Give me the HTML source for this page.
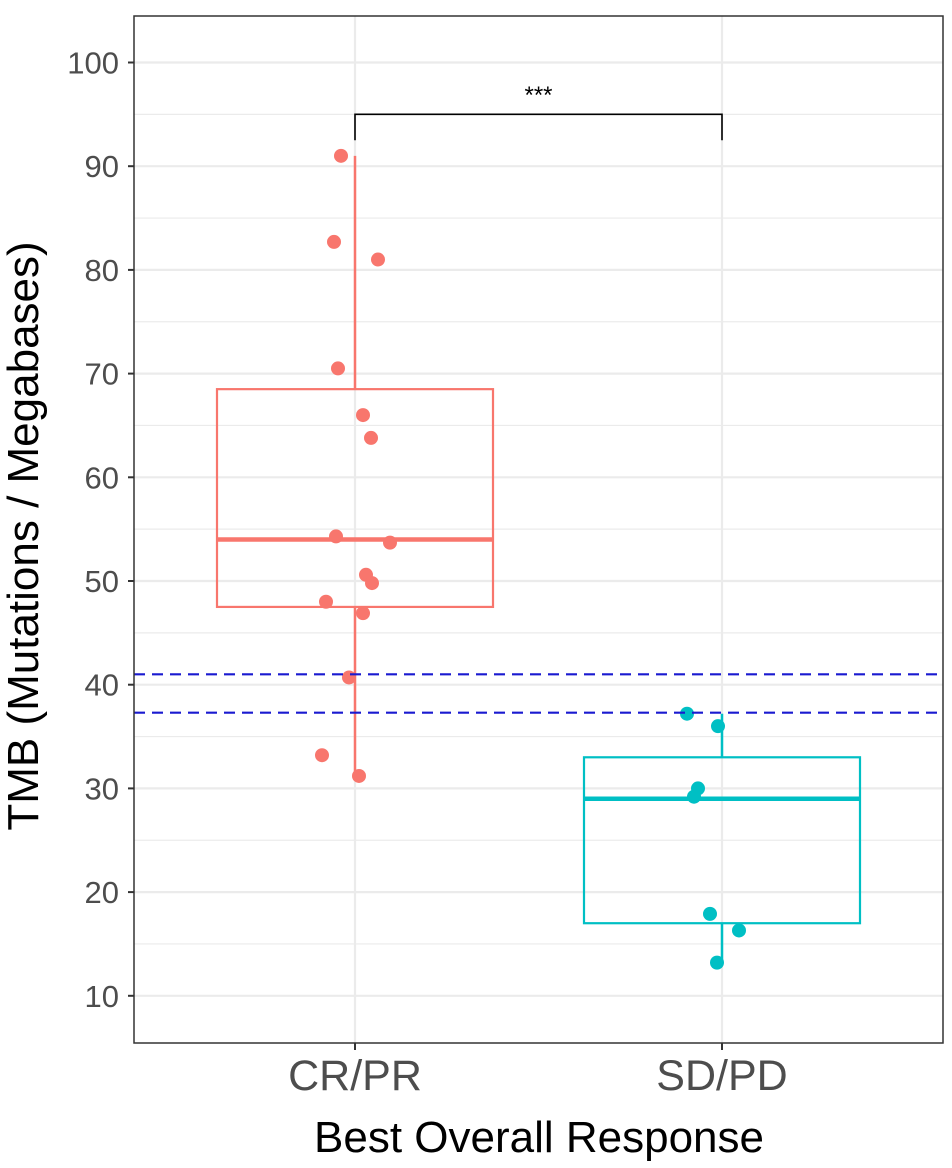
<!DOCTYPE html>
<html><head><meta charset="utf-8"><style>body{margin:0;background:#fff}svg{display:block;font-family:"Liberation Sans",sans-serif}</style></head>
<body>
<svg id="chart" width="952" height="1168"></svg>
<script>
const categories=["CR/PR","SD/PD"];
const crpr=[91,82.7,81,70.5,66,63.8,54.3,53.7,50.6,49.8,48,46.9,40.7,33.2,31.2];
const crprJitter=[-14,-21,23,-17,8,16,-19,35,11,17,-29,8,-6,-33,4];
const sdpd=[37.2,36,30,29.2,17.9,16.3,13.2];
const sdpdJitter=[-35,-4,-24,-28,-12,17,-5];
const boxStats=[{lo:31.2,q1:47.5,med:54,q3:68.5,hi:91},{lo:13.2,q1:17,med:29,q3:33,hi:37.2}];
const yTicks=[10,20,30,40,50,60,70,80,90,100];
const thresholds=[41,37.3];
const colors=["#F8766D","#00BFC4"];
const NS="http://www.w3.org/2000/svg";
const svg=document.getElementById("chart");
const L=134,R=943,T=16,B=1043;
const y=v=>62.5+(100-v)*10.37;
const x=i=>[355,722][i];
function el(t,a,p){const e=document.createElementNS(NS,t);for(const k in a)e.setAttribute(k,a[k]);(p||svg).appendChild(e);return e;}
for(let v=5;v<=105;v+=5){if(y(v)<T||y(v)>B)continue;const g=el("line",{x1:L,x2:R,y1:y(v),y2:y(v),stroke:"#ebebeb","stroke-width":v%10?1.2:2.2});

}
categories.forEach((c,i)=>{const g=el("line",{x1:x(i),x2:x(i),y1:T,y2:B,stroke:"#ebebeb","stroke-width":2.2});

});
boxStats.forEach((s,i)=>{const cx=x(i),w=138;
const g=el("g",{});


el("line",{x1:cx,x2:cx,y1:y(s.hi),y2:y(s.q3),stroke:colors[i],"stroke-width":2.5},g);
el("line",{x1:cx,x2:cx,y1:y(s.q1),y2:y(s.lo),stroke:colors[i],"stroke-width":2.5},g);
el("rect",{x:cx-w,y:y(s.q3),width:2*w,height:y(s.q1)-y(s.q3),fill:"none",stroke:colors[i],"stroke-width":2.2},g);
el("line",{x1:cx-w,x2:cx+w,y1:y(s.med),y2:y(s.med),stroke:colors[i],"stroke-width":4.5},g);});
[[crpr,crprJitter],[sdpd,sdpdJitter]].forEach(([vals,jit],i)=>vals.forEach((v,k)=>{const c=el("circle",{cx:x(i)+jit[k],cy:y(v),r:7,fill:colors[i]});

}));
thresholds.forEach(t=>{const l=el("line",{x1:L,x2:R,y1:y(t),y2:y(t),stroke:"#1a1ad0","stroke-width":2.2,"stroke-dasharray":"11,7"});

});
const br=el("path",{d:`M${x(0)},${y(92.5)}V${y(95)}H${x(1)}V${y(92.5)}`,fill:"none",stroke:"#000","stroke-width":1.6});


const st=el("text",{x:(x(0)+x(1))/2,y:103,"text-anchor":"middle","font-size":24});st.textContent="***";


const fr=el("rect",{x:L,y:T,width:R-L,height:B-T,fill:"none",stroke:"#333","stroke-width":1.5});


yTicks.forEach(v=>{el("line",{x1:L-6,x2:L,y1:y(v),y2:y(v),stroke:"#333","stroke-width":2});
const t=el("text",{x:L-15,y:y(v)+11,"text-anchor":"end","font-size":31,fill:"#4d4d4d"});t.textContent=v;

});
categories.forEach((c,i)=>{el("line",{x1:x(i),x2:x(i),y1:B,y2:B+7,stroke:"#333","stroke-width":2});
const t=el("text",{x:x(i),y:1090,"text-anchor":"middle","font-size":43,fill:"#4d4d4d"});t.textContent=c;

});
const xt=el("text",{x:539,y:1152,"text-anchor":"middle","font-size":44,fill:"#000"});xt.textContent="Best Overall Response";


const yt=el("text",{x:0,y:0,"text-anchor":"middle","font-size":44,fill:"#000",transform:`translate(38,536) rotate(-90)`});yt.textContent="TMB (Mutations / Megabases)";


</script>
</body></html>
